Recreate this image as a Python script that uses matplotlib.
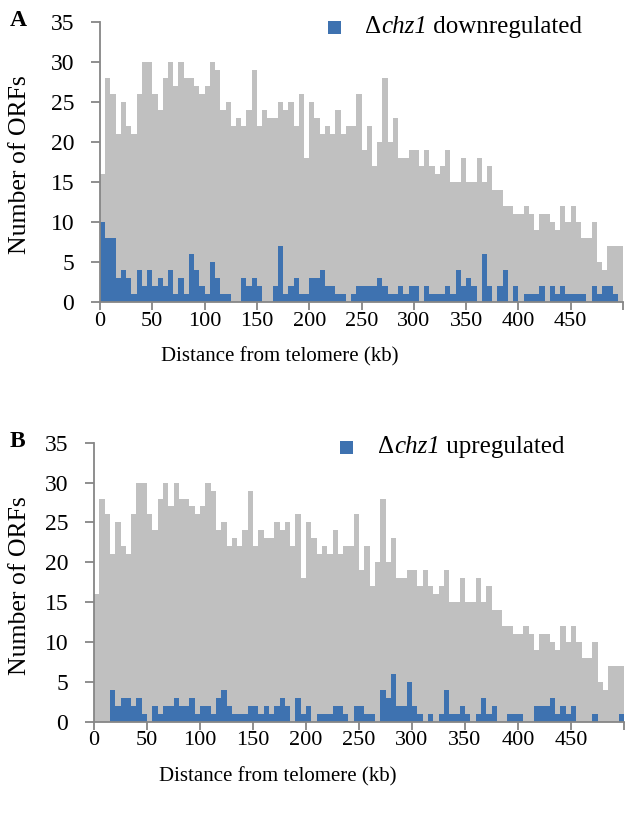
import matplotlib.pyplot as plt
import numpy as np
from matplotlib.patches import Rectangle

plt.rcParams['font.family'] = ['Liberation Serif', 'DejaVu Serif']

# 5 kb bins, 0-500 kb from the telomere
bin_edges = np.arange(0, 505, 5)

all_orfs = [16, 28, 26, 21, 25, 22, 21, 26, 30, 30,
            26, 24, 28, 30, 27, 30, 28, 28, 27, 26,
            27, 30, 29, 24, 25, 22, 23, 22, 24, 29,
            22, 24, 23, 23, 25, 24, 25, 22, 26, 18,
            25, 23, 21, 22, 21, 24, 21, 22, 22, 26,
            19, 22, 17, 20, 28, 20, 23, 18, 18, 19,
            19, 17, 19, 17, 16, 17, 19, 15, 15, 18,
            15, 15, 18, 15, 17, 14, 14, 12, 12, 11,
            11, 12, 11, 9, 11, 11, 10, 9, 12, 10,
            12, 10, 8, 8, 10, 5, 4, 7, 7, 7]

down_orfs = [10, 8, 8, 3, 4, 3, 1, 4, 2, 4,
             2, 3, 2, 4, 1, 3, 1, 6, 4, 2,
             1, 5, 3, 1, 1, 0, 0, 3, 2, 3,
             2, 0, 0, 2, 7, 1, 2, 3, 1, 1,
             3, 3, 4, 2, 2, 1, 1, 0, 1, 2,
             2, 2, 2, 3, 2, 1, 1, 2, 1, 2,
             2, 0, 2, 1, 1, 1, 2, 1, 4, 2,
             3, 2, 0, 6, 2, 0, 2, 4, 0, 2,
             0, 1, 1, 1, 2, 0, 2, 1, 2, 1,
             1, 1, 1, 0, 2, 1, 2, 2, 1, 0]

up_orfs = [0, 0, 0, 4, 2, 3, 3, 2, 3, 1,
           0, 2, 1, 2, 2, 3, 2, 2, 3, 1,
           2, 2, 1, 3, 4, 2, 1, 1, 1, 2,
           2, 1, 2, 1, 2, 3, 2, 0, 3, 1,
           2, 0, 1, 1, 1, 2, 2, 1, 0, 2,
           2, 1, 1, 0, 4, 3, 6, 2, 2, 5,
           2, 1, 0, 1, 0, 1, 4, 1, 1, 2,
           1, 0, 1, 3, 1, 2, 0, 0, 1, 1,
           1, 0, 0, 2, 2, 2, 3, 1, 2, 1,
           2, 0, 0, 0, 1, 0, 0, 0, 0, 1]

W, H = 625, 816
gray = '#c0c0c0'
blue = '#3e72b0'
axis_col = '#868686'

fig = plt.figure(figsize=(W / 100, H / 100), dpi=100)


def px(x, y):
    return x / W, 1 - y / H


def panel(left, right, top, bottom, subset, letter, legend_word, sq_x, txt_x, leg_y, xlab_x, xlab_y):
    ax = fig.add_axes([left / W, 1 - bottom / H, (right - left) / W, (bottom - top) / H])
    ax.stairs(all_orfs, bin_edges, fill=True, color=gray, linewidth=0)
    ax.stairs(subset, bin_edges, fill=True, color=blue, linewidth=0)
    ax.set_xlim(0, 500)
    ax.set_ylim(0, 35)
    ax.set_xticks(np.arange(0, 501, 50))
    ax.set_xticklabels([str(v) for v in range(0, 451, 50)] + [''])
    ax.set_yticks(np.arange(0, 36, 5))
    for s in ['top', 'right']:
        ax.spines[s].set_visible(False)
    for s in ['left', 'bottom']:
        ax.spines[s].set_color(axis_col)
        ax.spines[s].set_linewidth(1.3)
    ax.tick_params(axis='y', length=6.5, width=1.3, color=axis_col, pad=12, labelsize=17)
    ax.tick_params(axis='x', length=6, width=1.3, color=axis_col, pad=1, labelsize=16)

    fig.text(*px(10, top - 1), letter, fontsize=17, fontweight='bold', ha='left', va='center')
    fig.text(*px(20, (top + bottom) / 2 + 3), 'Number of ORFs', fontsize=18.5, rotation=90,
             ha='center', va='center')
    fig.text(*px(xlab_x, xlab_y), 'Distance from telomere (kb)', fontsize=15,
             ha='center', va='center')

    # legend: blue square, then "Δ" + italic "chz1" + label word
    fig.patches.append(Rectangle(px(sq_x, leg_y + 6.5), 13 / W, 13 / H, transform=fig.transFigure,
                                 facecolor=blue, edgecolor='none'))
    t1 = fig.text(*px(txt_x, leg_y + 11), '\u0394', fontsize=18, ha='left', va='bottom')
    t2 = ax.annotate('chz1', xy=(1, 0), xycoords=t1, fontsize=18, style='italic',
                     ha='left', va='bottom', annotation_clip=False)
    ax.annotate(' ' + legend_word, xy=(1, 0), xycoords=t2, fontsize=18,
                ha='left', va='bottom', annotation_clip=False)
    return ax


panel(100, 623, 22, 302, down_orfs, 'A', 'downregulated', 328, 365, 27, 280, 357)
panel(94, 624, 442.7, 721.7, up_orfs, 'B', 'upregulated', 340, 378, 447, 278, 777)

fig.savefig('out.png', dpi=100)
